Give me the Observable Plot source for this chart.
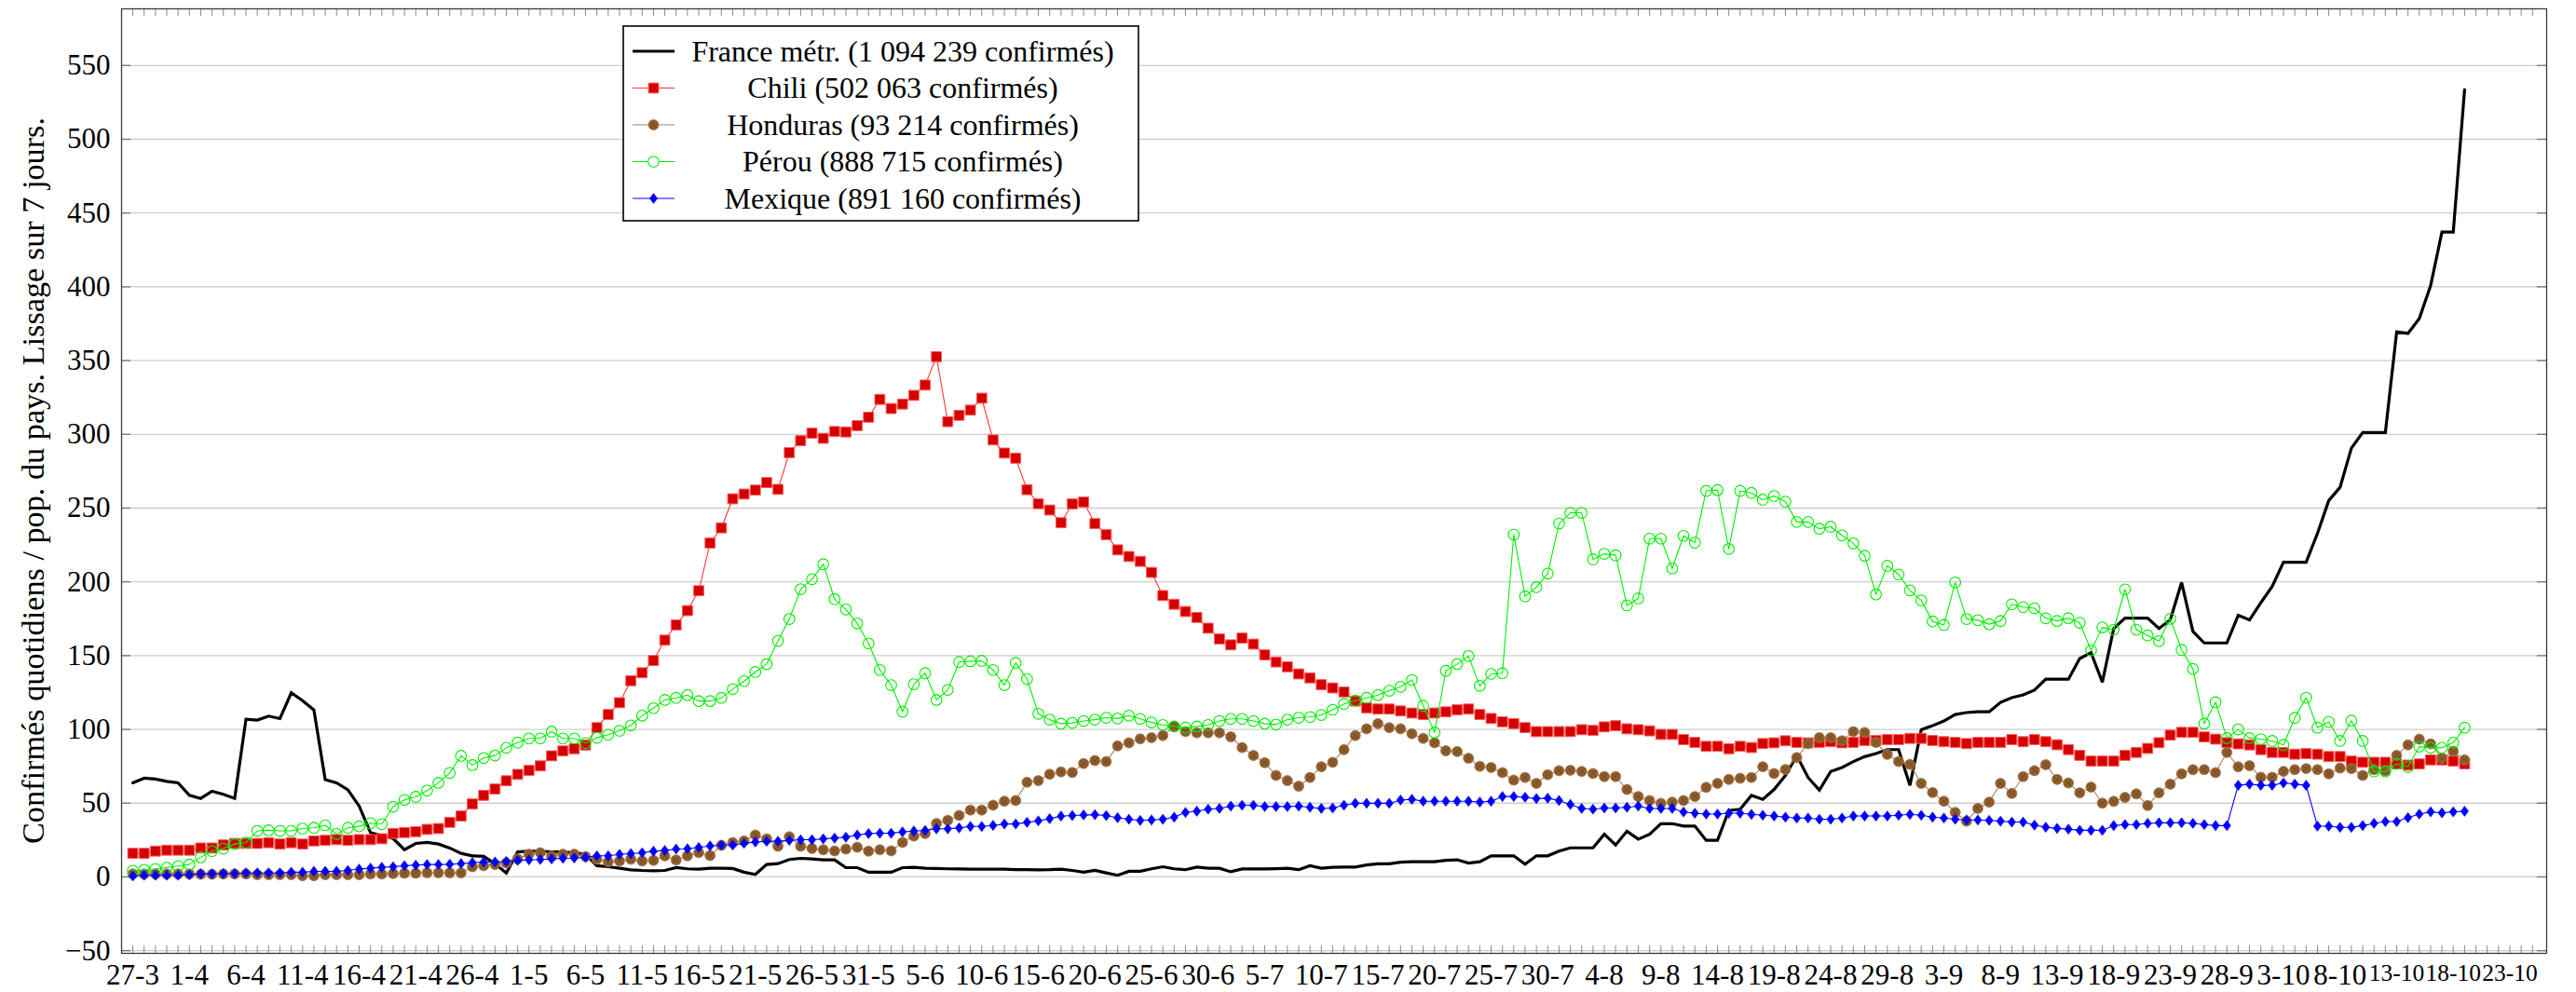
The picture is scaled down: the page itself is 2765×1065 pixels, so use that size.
<!DOCTYPE html>
<html>
<head>
<meta charset="utf-8">
<script src="https://cdn.jsdelivr.net/npm/d3@7"></script>
<script src="https://cdn.jsdelivr.net/npm/@observablehq/plot@0.6"></script>
<style>
  html, body { margin: 0; padding: 0; background: #fff; }
  #wrap { position: relative; width: 2765px; height: 1065px; overflow: hidden; }
</style>
</head>
<body>
<div id="wrap"></div>
<script>
// ---- Data: one value per day, starting 27-3 (2020) ----
const france = [63.8, 66.9, 66.3, 64.8, 63.8, 55.3, 53.2, 58.1, 56, 53.2,
 106.9, 106.3, 109, 107.3, 124.8, 119.5, 113.2, 65.9, 63.8, 59.1,
 48, 30, 28, 26, 18.5, 22.7, 23.4, 22.3, 19.6, 16,
 14.3, 13.9, 9, 2.7, 17, 17.5, 17.5, 17, 17, 16.4,
 15.4, 7.6, 6.9, 5.9, 4.8, 4.4, 4.2, 4.4, 6.3, 5.5,
 5.3, 5.9, 5.9, 5.7, 3.2, 1.7, 8.4, 9, 11.8, 12.6,
 12.2, 11.6, 11.6, 6.3, 6.3, 3.2, 3.2, 3.2, 6.3, 6.5,
 5.9, 5.7, 5.5, 5.4, 5.3, 5.3, 5.2, 5.3, 5, 5,
 4.8, 4.9, 5.3, 4.4, 3.2, 4.4, 2.7, 1.1, 3.8, 3.8,
 5.5, 6.9, 5.5, 4.9, 6.7, 5.9, 5.9, 3.5, 5.4, 5.4,
 5.4, 5.6, 5.9, 4.9, 7.6, 5.9, 6.5, 6.7, 6.7, 8.1,
 8.9, 8.9, 10, 10.3, 10.3, 10.3, 11.3, 11.6, 9.4, 10.3,
 14.3, 14.3, 14.3, 8.6, 14.3, 14.3, 17.5, 19.7, 19.7, 19.7,
 28.9, 21.6, 31, 25.6, 28.9, 36.1, 36.1, 34.5, 34.5, 24.8,
 24.8, 45, 45.9, 55.3, 52.6, 59.3, 68.8, 82.3, 67.4, 58.8,
 71.5, 74.2, 78.2, 81.5, 83.6, 86.3, 86.3, 62, 99.8, 102.5,
 105.7, 110.1, 111.4, 111.9, 111.9, 118.3, 121.5, 123.4, 126.6, 134,
 134, 134, 148, 152, 132, 168.4, 175.4, 175.4, 175.4, 168.4,
 174.2, 199.6, 166.4, 158.6, 158.6, 158.6, 177.3, 174.2, 185.9, 196.9,
 213.3, 213.3, 213.3, 232.8, 255.1, 264.1, 290.6, 301.2, 301.2, 301.2,
 369.5, 368.4, 378.5, 400.8, 437.1, 437.1, 533.6];

const chili = [16, 16, 17.5, 18.1, 18.1, 18.1, 19.6, 19.6, 21.7, 22.7,
 22.7, 22.7, 23.2, 22.3, 23.2, 22.3, 24.4, 24.8, 25.3, 24.8,
 25.3, 25.3, 25.9, 29.5, 30.1, 30.7, 32.2, 32.8, 37, 41.3,
 49.5, 55.3, 59.6, 65.2, 69.5, 72.2, 75.3, 82.1, 85.4, 86.9,
 89.4, 101.2, 110.1, 118.1, 133, 138.4, 146.7, 160.5, 170.8, 180.5,
 194, 226.3, 236.6, 256.3, 259.5, 262.2, 267.3, 262.7, 287.6, 295.7,
 300.8, 297.3, 301.9, 301.6, 305.9, 311.6, 323.7, 317.5, 320.5, 326.4,
 333.4, 352.6, 308.6, 312.9, 316.4, 324.5, 296.2, 287.3, 283.8, 262.5,
 253, 248.7, 240.1, 252.8, 254.1, 239.5, 232, 221.7, 217.2, 213.9,
 206.4, 190.7, 184.8, 179.9, 175.9, 168.6, 161.3, 157.3, 161.9, 157.8,
 150.5, 145.7, 142.4, 137.6, 134.9, 130.3, 128.1, 125.4, 119.2, 114.6,
 113.8, 113.8, 112.5, 111.1, 110.1, 111.1, 111.9, 113.3, 113.8, 110.1,
 107.4, 105.2, 103.9, 101.2, 98.5, 98.5, 98.5, 98.5, 99.8, 99.3,
 101.7, 102.5, 100.4, 99.8, 99, 96.6, 96.6, 93.1, 91.2, 88.5,
 88.5, 86.9, 88.5, 87.7, 90.4, 90.9, 92.3, 91.2, 90.9, 91.2,
 91.7, 90.9, 91.2, 92.5, 92.5, 93.1, 93.1, 93.9, 93.9, 92.5,
 91.7, 91.2, 90.4, 91.2, 91.2, 91.2, 93.1, 91.7, 93.1, 91.7,
 89.6, 86.3, 82.4, 78.5, 78.5, 78.5, 82.4, 84.4, 87.1, 91,
 96.1, 98, 98, 94.9, 93.4, 91, 90.2, 89.5, 86.3, 84.4,
 84.4, 83.2, 83.6, 83.2, 81.6, 81.6, 78.5, 77.7, 77.7, 77.7,
 76.6, 75.8, 76.6, 79.3, 79.3, 78.5, 76.6];

const honduras = [2, 2, 2, 2, 2, 2, 1.8, 1.8, 2, 2,
 2, 1.5, 1.5, 1.5, 1.5, 0.8, 0.8, 1.5, 1.5, 1.5,
 1.5, 2, 2, 2.3, 2.5, 2.5, 2.8, 2.8, 2.8, 2.7,
 6.9, 7.6, 8.4, 9.5, 12.2, 15.4, 16.4, 14, 15.4, 15.4,
 13.8, 12, 10.3, 10.8, 12, 10.8, 11.2, 14.3, 11.5, 14.3,
 16.5, 14.5, 21.4, 23.3, 24.4, 28.4, 25.8, 20.8, 27.2, 20.8,
 19.3, 18.4, 17.6, 18.9, 20.1, 17.5, 18.4, 17.7, 23.4, 27.7,
 29.4, 36.2, 38.4, 41.7, 45.3, 45.3, 48.6, 51.3, 51.8, 64.2,
 65.3, 69.6, 71.2, 70.8, 76.9, 78.9, 78.2, 88.8, 90.9, 93.6,
 94.4, 95.8, 102, 98.5, 97.7, 97.7, 97.7, 95, 87.7, 82.3,
 77.4, 68.8, 65.3, 61.5, 67.4, 74.7, 77.7, 86.3, 95.8, 100.4,
 103.9, 101.2, 100.4, 97.1, 93.9, 90.9, 85.5, 85, 80.4, 75,
 74.2, 70.7, 65.6, 67.4, 63.4, 69.3, 72, 72.3, 71.5, 70.1,
 68, 68, 59.3, 54.5, 51.8, 49.9, 50.7, 51.8, 54.5, 60.7,
 63.4, 66.1, 66.9, 67.4, 74.7, 70.1, 72.8, 80.9, 90.4, 94.4,
 94.4, 92.3, 98.5, 97.9, 91.2, 83.1, 78.2, 76.3, 63.4, 57.2,
 51.3, 43.7, 37.8, 46.4, 50.7, 63.4, 56.6, 68, 72, 76.1,
 66.1, 63.7, 57, 60.9, 50, 51.2, 53.9, 56.3, 48.4, 57,
 62.9, 69.9, 72.7, 72.7, 70.7, 84.4, 74.6, 75.4, 67.6, 67.6,
 71.5, 72.7, 73.4, 72.7, 69.9, 73.8, 73.4, 68.8, 72.7, 71.9,
 82.4, 89.5, 93.4, 90.2, 80.5, 85.2, 79.3];

const perou = [4.2, 4.8, 5.3, 6.3, 7.4, 8.4, 13.3, 17.5, 19.2, 22.3,
 23.2, 31.2, 31.6, 31.2, 31.2, 32.8, 33.3, 35, 29.1, 33.3,
 34.3, 36.4, 35.8, 47.6, 52.2, 54.3, 58.5, 63.8, 70.5, 82.1,
 75.8, 80.6, 82.3, 87.5, 91.1, 93.9, 93.9, 98.5, 93.9, 93.9,
 90.7, 94.3, 96.4, 99.1, 102.7, 109.3, 114.4, 120, 121.4, 123.3,
 119.2, 119.2, 121.4, 127.3, 132.7, 138.9, 144.3, 160, 174.8, 195,
 201.8, 212, 188.3, 181.3, 171.8, 158.3, 140.3, 130, 112, 130.6,
 138.1, 120, 126.8, 145.7, 146.2, 146.5, 140.3, 130, 145.1, 134.1,
 110.6, 106.6, 103.9, 104.4, 105.7, 106.6, 107.9, 107.4, 109.3, 107.1,
 104.7, 103, 102, 101.2, 102, 103, 105.7, 107.1, 107.1, 105.7,
 103.9, 103.3, 106.6, 107.9, 108.4, 109.8, 113.3, 117.3, 119.5, 121.4,
 123.3, 126.2, 128.9, 133.5, 116, 97.9, 139.7, 144.3, 149.7, 129.5,
 137.6, 138.1, 232, 190.2, 196.4, 205.6, 239.5, 246.8, 246.8, 215.3,
 219, 218, 184, 188.8, 229.3, 229.3, 209.1, 231.2, 226.6, 261.7,
 262.2, 222.3, 261.7, 260.3, 255.7, 258.2, 254.4, 240.6, 240.6, 236,
 237.4, 231.5, 226.1, 217.7, 191.5, 210.9, 205, 194.2, 187.5, 173.2,
 170.8, 199.6, 174.8, 174, 171.3, 173.5, 184.8, 182.9, 182.1, 175.3,
 173.5, 175.4, 172.3, 153.5, 169.1, 167.6, 194.9, 167.6, 163.7, 159.8,
 175, 153.9, 141, 103.9, 118.4, 94.1, 100, 94.1, 93.4, 92.2,
 89.5, 107.8, 121.5, 101.2, 105.1, 92.2, 105.9, 92.2, 71.5, 71.5,
 76.6, 74.6, 88.3, 87.5, 87.5, 91, 101.2];

const mexique = [0.6, 1.1, 1.1, 1.1, 1.1, 1.5, 2.1, 2.1, 2.3, 2.3,
 2.7, 2.7, 2.7, 2.7, 3.2, 3.2, 3.8, 3.8, 3.8, 4.4,
 5.3, 5.9, 6.5, 6.9, 7.6, 8, 8.4, 8.4, 8.6, 9,
 9.7, 10.1, 10.1, 10.5, 11.2, 11.6, 11.8, 12.2, 12.6, 12.8,
 13.3, 14.3, 14.3, 15.3, 15.8, 16.4, 17.4, 17.9, 18.9, 19.1,
 20, 21, 21.6, 21.6, 22.7, 23.7, 24.2, 24.2, 24.8, 25.2,
 25.2, 25.8, 26.3, 26.9, 28.4, 29.4, 29.6, 29.6, 30.5, 31.1,
 31.5, 32.6, 32.6, 33.2, 34.2, 34.2, 34.9, 35.9, 35.9, 37,
 38, 39.5, 41.2, 41.6, 42, 42.2, 41.6, 40.1, 39.1, 38.3,
 38.6, 39.1, 40.5, 43.7, 44.5, 45.9, 46.4, 48, 48.6, 48.6,
 47.7, 47.7, 47.7, 48, 47.2, 46.4, 46.7, 48.6, 49.9, 49.9,
 49.9, 49.9, 52.1, 52.6, 51.3, 51.3, 51.3, 51.3, 51.3, 50.7,
 51.3, 54.5, 54.5, 54, 53.1, 53.4, 51.8, 49.1, 46.4, 45.9,
 46.7, 46.7, 47.2, 48, 46.4, 46.4, 46.4, 44, 43.2, 42.6,
 42.6, 43.2, 43.2, 42.4, 41.8, 41.3, 40.5, 39.9, 39.9, 39.1,
 39.1, 39.9, 41.3, 41.3, 41.3, 41.3, 41.8, 42.4, 41.8, 40.5,
 39.9, 39.1, 38.6, 38.6, 38.3, 37.8, 37.2, 37.2, 35.1, 33.7,
 32.9, 32.4, 31.6, 31.6, 31.6, 34.8, 35.5, 35.5, 36.3, 36.7,
 36.7, 36.7, 36.3, 35.5, 34.8, 34.8, 62.1, 62.9, 62.1, 62.1,
 63.7, 62.9, 62.1, 34.4, 34.4, 33.6, 33.6, 34.8, 36.3, 37.5,
 37.5, 40.2, 42.6, 44.1, 43.4, 44.1, 44.5];

const seriesLabels = [
  "France métr. (1 094 239 confirmés)",
  "Chili (502 063 confirmés)",
  "Honduras (93 214 confirmés)",
  "Pérou (888 715 confirmés)",
  "Mexique (891 160 confirmés)"
];

const xTickLabels = ["27-3","1-4","6-4","11-4","16-4","21-4","26-4","1-5","6-5","11-5",
  "16-5","21-5","26-5","31-5","5-6","10-6","15-6","20-6","25-6","30-6",
  "5-7","10-7","15-7","20-7","25-7","30-7","4-8","9-8","14-8","19-8",
  "24-8","29-8","3-9","8-9","13-9","18-9","23-9","28-9","3-10","8-10",
  "13-10","18-10","23-10"];

const yTicks = [-50, 0, 50, 100, 150, 200, 250, 300, 350, 400, 450, 500, 550];

// ---- Derived tables ----
const toRows = arr => arr.map((v, i) => ({day: i, value: v}));
const rFrance = toRows(france), rChili = toRows(chili), rHond = toRows(honduras),
      rPerou = toRows(perou), rMex = toRows(mexique);
const xTickDays = xTickLabels.map((_, i) => i * 5);
const dayTicks = d3.range(0, 213);

// ---- Custom marker shapes ----
const squareSym = { draw(ctx, size) { const r = Math.sqrt(size / Math.PI);
  ctx.moveTo(-r, -r); ctx.lineTo(r, -r); ctx.lineTo(r, r); ctx.lineTo(-r, r); ctx.closePath(); } };
const diamondSym = { draw(ctx, size) { const r = Math.sqrt(size / Math.PI), w = r * 0.76;
  ctx.moveTo(0, -r); ctx.lineTo(w, 0); ctx.lineTo(0, r); ctx.lineTo(-w, 0); ctx.closePath(); } };

const W = 2765, H = 1065, mL = 130, mR = 32, mT = 9, mB = 42;
const pW = W - mL - mR, pH = H - mT - mB;
const FONT = "'Liberation Serif', 'DejaVu Serif', serif";

const C = {
  chiliLine: "#ff3535", chiliFill: "#d40000", chiliEdge: "#ff5c5c",
  hondLine: "#a8825f", hondFill: "#8f5c2c", hondEdge: "#a57a52", hondHatch: "#5a3815",
  perou: "#00ee00", mex: "#0000ff"
};

const plot = Plot.plot({
  width: W, height: H,
  marginLeft: mL, marginRight: mR, marginTop: mT, marginBottom: mB,
  style: {fontFamily: FONT, fontSize: "31px", background: "white", color: "black"},
  x: {type: "linear", domain: [-0.99, 213.25]},
  y: {type: "linear", domain: [-51.8, 588.4]},
  marks: [
    Plot.ruleY(yTicks, {stroke: "#cdcdcd", strokeWidth: 1.3}),
    // inner tick marks (bottom, top, left, right)
    Plot.ruleX(dayTicks, {insetTop: pH - 8, stroke: "#8a8a8a", strokeWidth: 1}),
    Plot.ruleX(dayTicks, {insetBottom: pH - 8, stroke: "#8a8a8a", strokeWidth: 1}),
    Plot.ruleY(yTicks, {insetRight: pW - 10, stroke: "#777", strokeWidth: 1.3}),
    Plot.ruleY(yTicks, {insetLeft: pW - 10, stroke: "#777", strokeWidth: 1.3}),
    // France
    Plot.line(rFrance, {x: "day", y: "value", stroke: "#000", strokeWidth: 3.2, strokeLinejoin: "miter", strokeMiterlimit: 3}),
    // Chili
    Plot.line(rChili, {x: "day", y: "value", stroke: C.chiliLine, strokeWidth: 1.1}),
    Plot.dot(rChili, {x: "day", y: "value", symbol: squareSym, r: 5.4, fill: C.chiliFill, stroke: C.chiliEdge, strokeWidth: 1}),
    // Honduras
    Plot.line(rHond, {x: "day", y: "value", stroke: C.hondLine, strokeWidth: 1.1}),
    Plot.dot(rHond, {x: "day", y: "value", r: 5.5, fill: C.hondFill, stroke: C.hondEdge, strokeWidth: 0.8}),
    Plot.dot(rHond, {x: "day", y: "value", symbol: "times", r: 3.4, stroke: C.hondHatch, strokeWidth: 0.8, strokeOpacity: 0.6}),
    // Pérou
    Plot.line(rPerou, {x: "day", y: "value", stroke: C.perou, strokeWidth: 1.1}),
    Plot.dot(rPerou, {x: "day", y: "value", r: 5.8, fill: "none", stroke: C.perou, strokeWidth: 1.1}),
    // Mexique
    Plot.line(rMex, {x: "day", y: "value", stroke: C.mex, strokeWidth: 1.1}),
    Plot.dot(rMex, {x: "day", y: "value", symbol: diamondSym, r: 5.6, fill: C.mex, stroke: C.mex, strokeWidth: 0.4}),
    Plot.frame({stroke: "#3a3a3a", strokeWidth: 1.3}),
    Plot.axisX({ticks: xTickDays, tickFormat: d => xTickLabels[xTickDays.indexOf(d)], tickSize: 0, tickPadding: 11, fontSize: 31, label: null}),
    Plot.axisY({ticks: yTicks, tickFormat: d => d < 0 ? "\u2212" + (-d) : String(d), tickSize: 0, tickPadding: 12, fontSize: 31, label: null})
  ]
});

const wrap = document.getElementById("wrap");
wrap.appendChild(plot);

// Shrink the long (5-character) date labels so neighbouring labels don't collide
d3.select(plot).selectAll("text").each(function () {
  const s = this.textContent;
  if (/^\d+-\d+$/.test(s) && s.length >= 5) {
    this.setAttribute("font-size", "25.5");
    this.style.fontSize = "25.5px";
  }
});

// y-axis title
const svgNS = "http://www.w3.org/2000/svg";
const yTitle = document.createElementNS(svgNS, "text");
yTitle.setAttribute("transform", "translate(47,516) rotate(-90)");
yTitle.setAttribute("text-anchor", "middle");
yTitle.setAttribute("font-size", "33");
yTitle.setAttribute("font-family", FONT);
yTitle.setAttribute("fill", "black");
yTitle.setAttribute("textLength", "780");
yTitle.setAttribute("lengthAdjust", "spacingAndGlyphs");
yTitle.textContent = "Confirmés quotidiens / pop. du pays. Lissage sur 7 jours.";
plot.appendChild(yTitle);

// ---- Legend (overlay inside the plot area) ----
const leg = d3.create("svg")
  .attr("width", 556).attr("height", 212)
  .style("position", "absolute").style("left", "668px").style("top", "27px");
leg.append("rect").attr("x", 1).attr("y", 1).attr("width", 553).attr("height", 209)
  .attr("fill", "white").attr("stroke", "#000").attr("stroke-width", 1.6);
const rowY = [28, 67.5, 107, 146.5, 186];
const sym = (type, r) => d3.symbol().type(type).size(Math.PI * r * r)();
const legendStyles = [
  {line: "#000", lw: 3.2},
  {line: C.chiliLine, lw: 1.1, marks: [{d: sym(squareSym, 5.4), fill: C.chiliFill, stroke: C.chiliEdge, sw: 1}]},
  {line: C.hondLine, lw: 1.1, marks: [{d: sym(d3.symbolCircle, 5.5), fill: C.hondFill, stroke: C.hondEdge, sw: 0.8},
                                      {d: sym(d3.symbolTimes, 3.4), fill: "none", stroke: C.hondHatch, sw: 0.8, op: 0.6}]},
  {line: C.perou, lw: 1.1, marks: [{d: sym(d3.symbolCircle, 5.8), fill: "white", stroke: C.perou, sw: 1.1}]},
  {line: C.mex, lw: 1.1, marks: [{d: sym(diamondSym, 5.6), fill: C.mex, stroke: C.mex, sw: 0.4}]}
];
seriesLabels.forEach((label, i) => {
  const g = leg.append("g").attr("transform", `translate(0,${rowY[i]})`);
  const st = legendStyles[i];
  g.append("line").attr("x1", 11).attr("x2", 56).attr("y1", 0).attr("y2", 0)
    .attr("stroke", st.line).attr("stroke-width", st.lw);
  (st.marks || []).forEach(m => {
    g.append("path").attr("d", m.d).attr("transform", "translate(33.5,0)")
      .attr("fill", m.fill).attr("stroke", m.stroke).attr("stroke-width", m.sw)
      .attr("stroke-opacity", m.op || 1);
  });
  g.append("text").attr("x", 301).attr("y", 10.5).attr("text-anchor", "middle")
    .attr("font-family", FONT).attr("font-size", 32).attr("fill", "black").text(label);
});
wrap.appendChild(leg.node());
</script>
</body>
</html>
